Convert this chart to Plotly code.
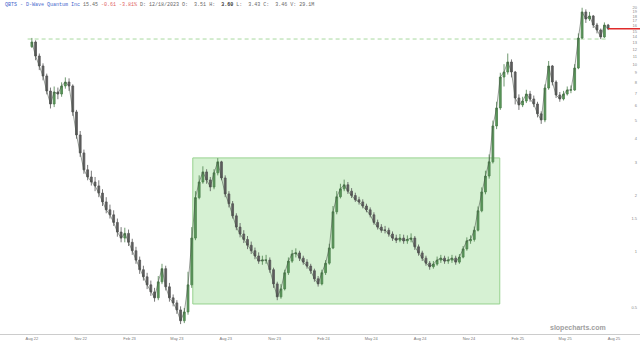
import math
import plotly.graph_objects as go
import pandas as pd

# ---- data (weekly) ----
start_date = "2022-08-01"
first_open = 12.4
close = [13.13, 11.05, 9.78, 8.65, 7.19, 6.13, 7.10, 6.93, 7.65, 8.03,
         7.65, 5.56, 4.19, 3.36, 2.73, 2.50, 2.35, 2.24, 2.05, 1.84,
         1.67, 1.57, 1.43, 1.27, 1.18, 1.25, 1.12, 1.01, 0.90, 0.80,
         0.733, 0.664, 0.609, 0.566, 0.689, 0.81, 0.648, 0.566, 0.532, 0.488,
         0.427, 0.476, 0.664, 1.18, 1.94, 2.35, 2.66, 2.41, 2.21, 2.63,
         3.01, 2.47, 2.03, 1.80, 1.55, 1.35, 1.24, 1.16, 1.08, 1.01,
         0.947, 0.889, 0.90, 0.90, 0.80, 0.672, 0.573, 0.632, 0.771, 0.889,
         0.971, 0.983, 0.922, 0.878, 0.836, 0.790, 0.715, 0.672, 0.771, 0.867,
         1.045, 1.63, 1.96, 2.16, 2.27, 2.10, 1.99, 1.89, 1.84, 1.75,
         1.67, 1.57, 1.43, 1.35, 1.30, 1.30, 1.24, 1.18, 1.15, 1.18,
         1.14, 1.16, 1.18, 1.06, 0.983, 0.922, 0.867, 0.830, 0.857, 0.90,
         0.922, 0.889, 0.90, 0.922, 0.878, 0.934, 1.033, 1.14, 1.16, 1.30,
         1.65, 2.08, 2.53, 3.01, 4.68, 5.84, 8.54, 9.08, 10.27, 9.08,
         6.60, 6.06, 6.36, 6.93, 6.52, 6.13, 5.43, 5.04, 7.46, 9.78,
         8.03, 6.85, 6.52, 6.93, 7.28, 7.28, 9.54, 13.79, 18.99, 17.42,
         18.08, 16.18, 15.22, 13.97, 16.18, 15.45]
high = [13.8, 13.4, 11.4, 10.1, 8.9, 7.5, 7.6, 7.5, 8.0, 8.5,
        8.4, 7.8, 5.7, 4.4, 3.5, 2.9, 2.7, 2.5, 2.4, 2.15,
        1.95, 1.78, 1.66, 1.5, 1.35, 1.34, 1.31, 1.17, 1.06, 0.94,
        0.84, 0.77, 0.70, 0.64, 0.74, 0.86, 0.84, 0.68, 0.59, 0.55,
        0.51, 0.50, 0.78, 1.35, 2.1, 2.55, 2.85, 2.75, 2.5, 2.75,
        3.15, 3.05, 2.55, 2.1, 1.86, 1.6, 1.42, 1.3, 1.21, 1.13,
        1.05, 0.99, 0.95, 0.96, 0.93, 0.82, 0.69, 0.67, 0.80, 0.93,
        1.02, 1.04, 1.01, 0.95, 0.91, 0.86, 0.81, 0.74, 0.80, 0.90,
        1.10, 1.75, 2.1, 2.3, 2.42, 2.35, 2.18, 2.06, 1.96, 1.9,
        1.8, 1.72, 1.62, 1.48, 1.40, 1.37, 1.34, 1.28, 1.23, 1.24,
        1.23, 1.22, 1.25, 1.21, 1.09, 1.01, 0.95, 0.89, 0.89, 0.94,
        0.96, 0.95, 0.94, 0.96, 0.95, 0.97, 1.07, 1.19, 1.22, 1.36,
        1.74, 2.2, 2.7, 3.3, 5.0, 6.3, 9.0, 10.0, 11.4, 10.6,
        9.2, 6.9, 6.7, 7.3, 7.2, 6.8, 6.3, 5.6, 7.8, 10.4,
        9.9, 8.2, 7.1, 7.2, 7.6, 7.7, 10.0, 14.6, 20.0, 19.6,
        19.0, 18.3, 16.6, 15.5, 16.7, 16.4]
low = [12.2, 10.5, 9.3, 8.2, 6.9, 5.8, 5.9, 6.5, 6.7, 7.4,
       7.2, 5.3, 4.0, 3.2, 2.6, 2.4, 2.25, 2.1, 1.95, 1.75,
       1.6, 1.5, 1.37, 1.2, 1.12, 1.12, 1.07, 0.96, 0.86, 0.76,
       0.70, 0.63, 0.58, 0.54, 0.55, 0.67, 0.62, 0.54, 0.51, 0.465,
       0.41, 0.415, 0.46, 0.64, 1.15, 1.9, 2.3, 2.3, 2.1, 2.15,
       2.55, 2.4, 1.95, 1.72, 1.5, 1.3, 1.19, 1.11, 1.03, 0.97,
       0.91, 0.86, 0.85, 0.86, 0.77, 0.64, 0.55, 0.56, 0.62, 0.75,
       0.87, 0.93, 0.89, 0.85, 0.81, 0.76, 0.69, 0.65, 0.66, 0.75,
       0.85, 1.03, 1.58, 1.92, 2.1, 2.03, 1.93, 1.84, 1.78, 1.7,
       1.62, 1.52, 1.39, 1.31, 1.26, 1.25, 1.2, 1.14, 1.11, 1.12,
       1.1, 1.1, 1.12, 1.02, 0.95, 0.89, 0.84, 0.80, 0.81, 0.84,
       0.87, 0.86, 0.86, 0.87, 0.85, 0.86, 0.92, 1.01, 1.1, 1.13,
       1.28, 1.62, 2.02, 2.45, 2.95, 4.5, 5.7, 7.6, 8.8, 8.5,
       6.1, 5.7, 5.9, 6.2, 6.3, 5.9, 5.2, 4.8, 4.9, 7.3,
       7.7, 6.6, 6.3, 6.4, 6.8, 7.0, 7.2, 9.4, 13.6, 16.6,
       17.0, 15.6, 14.6, 13.6, 13.8, 15.2]

y_ticks = [0.5, 1, 1.5, 2, 3, 4, 5, 6, 7, 8, 9, 10, 11, 12, 13, 14, 15, 16, 17, 18, 19, 20]

box_start, box_end = "2023-05-31", "2024-12-29"
box_low, box_high = 0.525, 3.16
prior_high = 13.62
dash_start, dash_end = "2022-07-24", "2025-07-21"
last_price = 15.45
x_start, x_end = "2022-06-02", "2025-09-19"
y_min, y_max = 0.363, 22.0

dates = pd.date_range(start_date, periods=len(close), freq="7D")
opens = [first_open] + close[:-1]

fig = go.Figure()

# green consolidation box
fig.add_shape(type="rect", xref="x", yref="y", x0=box_start, x1=box_end,
              y0=box_low, y1=box_high, fillcolor="#d6f1d3",
              line=dict(color="#96d28e", width=1), layer="below")
# prior high dashed line
fig.add_shape(type="line", xref="x", yref="y", x0=dash_start, x1=dash_end,
              y0=prior_high, y1=prior_high,
              line=dict(color="#a9d99f", width=1, dash="4px,3px"), layer="below")
# last price line
fig.add_shape(type="line", xref="x", yref="y", x0=dash_end, x1=x_end,
              y0=last_price, y1=last_price,
              line=dict(color="#e02b2b", width=1.5))

fig.add_trace(go.Candlestick(
    x=dates, open=opens, high=high, low=low, close=close,
    increasing=dict(line=dict(color="#4a7f4a", width=0.8), fillcolor="#5b995b"),
    decreasing=dict(line=dict(color="#555555", width=0.8), fillcolor="#5e5e5e"),
    whiskerwidth=0, showlegend=False,
))
# thin close line to mimic the dense daily ribbon
fig.add_trace(go.Scatter(x=dates, y=close, mode="lines",
                         line=dict(color="rgba(70,80,70,0.55)", width=1),
                         showlegend=False, hoverinfo="skip"))

title_html = ('<span style="color:#4466cc">QBTS - D-Wave Quantum Inc</span>'
              '&nbsp;<span style="color:#666">15.45</span>'
              '&nbsp;<span style="color:#e06060">-0.61&nbsp;-3.81%</span>'
              '&nbsp;<span style="color:#666">D:&nbsp;12/18/2023&nbsp;O:&nbsp;&nbsp;3.51</span>'
              '&nbsp;<span style="color:#666">H:</span>&nbsp;&nbsp;<b>3.60</b>'
              '&nbsp;<span style="color:#666">L:&nbsp;&nbsp;3.43&nbsp;C:&nbsp;&nbsp;3.46&nbsp;V:&nbsp;29.1M</span>')
fig.add_annotation(text=title_html, xref="paper", yref="paper", x=0.004, y=0.999,
                   xanchor="left", yanchor="top", showarrow=False,
                   font=dict(family="Liberation Mono", size=5, color="#333"))
fig.add_annotation(text="<b>slopecharts.com</b>", xref="paper", yref="paper",
                   x=0.95, y=0.0, xanchor="right", yanchor="bottom", showarrow=False,
                   font=dict(family="Liberation Sans", size=7, color="#a0a0a0"))

fig.update_layout(
    width=640, height=345,
    margin=dict(l=0, r=0, t=0, b=11),
    paper_bgcolor="white", plot_bgcolor="white",
    xaxis=dict(range=[x_start, x_end], type="date", rangeslider=dict(visible=False),
               showgrid=False, zeroline=False, showline=True, linecolor="#cccccc", linewidth=1,
               tick0="2022-08-01", dtick="M3", tickformat="%b %y", ticks="",
               tickfont=dict(family="Liberation Sans", size=4, color="#777")),
    yaxis=dict(type="log", range=[math.log10(y_min), math.log10(y_max)],
               side="right", ticklabelposition="inside", showgrid=False, zeroline=False,
               showline=False, tickvals=y_ticks, ticktext=[str(v) for v in y_ticks], ticks="",
               tickfont=dict(family="Liberation Sans", size=4, color="#888")),
    hovermode=False,
)

fig.write_html("out.html")
